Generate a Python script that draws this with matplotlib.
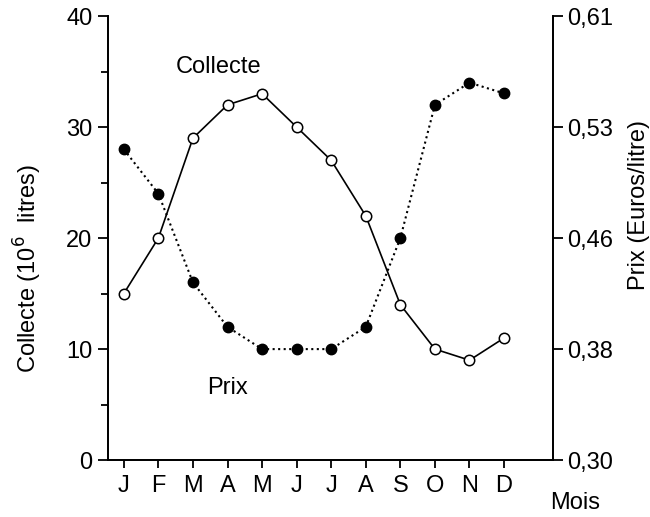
import matplotlib
matplotlib.use("Agg")
import matplotlib.pyplot as plt
from matplotlib.ticker import MultipleLocator

plt.rcParams['font.family'] = ['Liberation Sans', 'DejaVu Sans']

months = ['J', 'F', 'M', 'A', 'M', 'J', 'J', 'A', 'S', 'O', 'N', 'D']
collecte = [15, 20, 29, 32, 33, 30, 27, 22, 14, 10, 9, 11]
prix = [0.517, 0.486, 0.424, 0.393, 0.3775, 0.3775, 0.3775, 0.393, 0.455, 0.548, 0.5635, 0.556]
left_ticks = [0, 10, 20, 30, 40]
right_ticks = [0.30, 0.3775, 0.455, 0.5325, 0.61]
right_labels = ['0,30', '0,38', '0,46', '0,53', '0,61']

FS = 17
fig = plt.figure(figsize=(6.5, 5.17), dpi=100)
ax = fig.add_axes([0.166, 0.110, 0.685, 0.859])
x = list(range(len(months)))

ax.plot(x, collecte, '-', color='black', lw=1.2, marker='o', markersize=7.5,
        markerfacecolor='white', markeredgecolor='black', markeredgewidth=1.1, zorder=3)
ax2 = ax.twinx()
ax2.plot(x, prix, ':', color='black', lw=1.5, marker='o', markersize=7.5,
         markerfacecolor='black', markeredgecolor='black', zorder=3)

ax.set_xlim(-0.46, 12.42)
ax.set_ylim(0, 40)
ax2.set_ylim(0.30, 0.61)
ax.set_yticks(left_ticks)
ax.yaxis.set_minor_locator(MultipleLocator(5))
ax2.set_yticks(right_ticks)
ax2.set_yticklabels(right_labels)
ax.set_xticks(x)
ax.set_xticklabels(months)

for a in (ax, ax2):
    a.spines['top'].set_visible(False)
    for s in a.spines.values():
        s.set_linewidth(1.3)
    a.tick_params(axis='both', which='major', direction='out', length=7, width=1.3,
                  labelsize=FS, pad=4)
    a.tick_params(axis='both', which='minor', direction='out', length=5, width=1.3)
ax.tick_params(axis='x', length=6, pad=5)
ax2.tick_params(axis='y', pad=3)

fig.text(0.043, 0.480, 'Collecte (10$^6$  litres)', fontsize=FS, rotation=90,
         ha='center', va='center')
fig.text(0.983, 0.603, 'Prix (Euros/litre)', fontsize=FS, rotation=90,
         ha='center', va='center')
fig.text(0.885, 0.006, 'Mois', fontsize=FS, ha='center', va='bottom')

ax.text(2.75, 35.4, 'Collecte', fontsize=FS, ha='center', va='center')
ax.text(3.0, 6.5, 'Prix', fontsize=FS, ha='center', va='center')

fig.savefig('out.png', dpi=100)
